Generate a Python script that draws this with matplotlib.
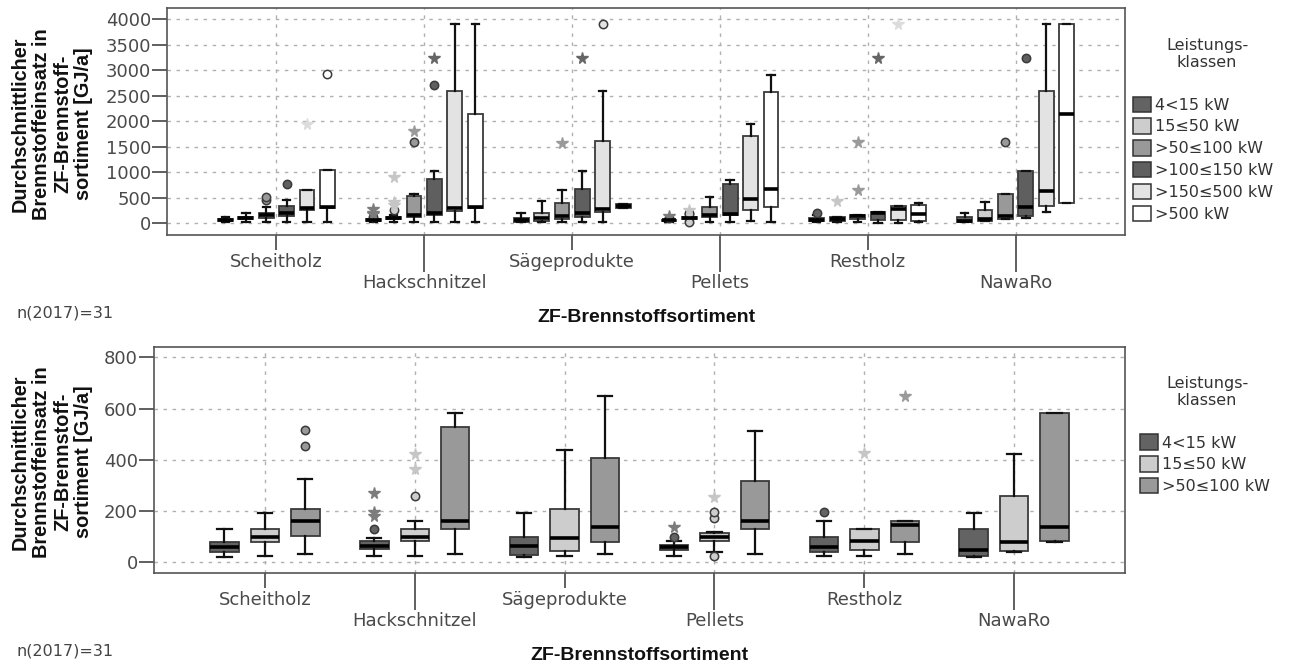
import matplotlib
matplotlib.use("Agg")
import matplotlib.pyplot as plt
from matplotlib.patches import Patch

# ZF-Brennstoffsortimente (x-Achse)
categories = ["Scheitholz", "Hackschnitzel", "Sägeprodukte", "Pellets", "Restholz", "NawaRo"]
# Leistungsklassen
classes = ["4<15 kW", "15≤50 kW", ">50≤100 kW", ">100≤150 kW", ">150≤500 kW", ">500 kW"]
fills = ["#636363", "#cdcdcd", "#999999", "#5f5f5f", "#e3e3e3", "#ffffff"]
star_cols = ["#7c7c7c", "#c6c6c6", "#9a9a9a", "#666666", "#dcdcdc", "#e0e0e0"]

# Boxplot-Kennwerte [GJ/a], je Klasse eine Zeile, je Sortiment eine Spalte
whislo = [[20, 26, 20, 26, 26, 20],
          [26, 26, 26, 39, 26, 39],
          [33, 33, 33, 33, 33, 78],
          [33, 20, 20, 20, 15, 98],
          [33, 20, 20, 39, 13, 216],
          [33, 20, 307, 20, 26, 392]]
q1 = [[39, 51, 29, 47, 39, 25],
      [79, 81, 44, 82, 46, 43],
      [103, 130, 79, 130, 78, 81],
      [150, 170, 118, 170, 70, 144],
      [255, 242, 229, 255, 65, 346],
      [300, 300, 307, 320, 52, 392]]
med = [[61, 65, 62, 58, 58, 46],
       [98, 98, 96, 100, 82, 79],
       [161, 161, 138, 161, 144, 138],
       [203, 196, 196, 190, 200, 314],
       [300, 307, 288, 477, 281, 641],
       [320, 320, 340, 673, 190, 2137]]
q3 = [[79, 83, 98, 68, 98, 130],
      [130, 130, 209, 116, 130, 260],
      [209, 527, 405, 319, 161, 583],
      [340, 869, 667, 771, 225, 1033],
      [647, 2601, 1614, 1719, 340, 2601],
      [1039, 2150, 385, 2568, 360, 3902]]
whishi = [[129, 96, 194, 83, 161, 194],
          [194, 161, 438, 120, 130, 421],
          [323, 583, 647, 511, 161, 583],
          [451, 1026, 1026, 850, 225, 1033],
          [647, 3902, 2601, 1954, 340, 3902],
          [1039, 3902, 385, 2913, 405, 3902]]

# Ausreisser (Kreise) und Extremwerte (Sterne): (Sortiment, Klasse) -> Werte
circles = {(0, 2): [453, 518], (0, 3): [778], (0, 5): [2930],
           (1, 0): [129], (1, 1): [259], (1, 2): [1588], (1, 3): [2712],
           (2, 4): [3902],
           (3, 0): [98], (3, 1): [26, 174, 198],
           (4, 0): [195],
           (5, 2): [1588], (5, 3): [3248]}
stars = {(0, 4): [1950],
         (1, 0): [182, 195, 272], (1, 1): [363, 421, 915], (1, 2): [1810], (1, 3): [3248],
         (2, 2): [1582], (2, 3): [3248],
         (3, 0): [137], (3, 1): [254],
         (4, 1): [428], (4, 2): [647, 1588], (4, 3): [3248], (4, 4): [3908]}

BOLD = dict(family="Liberation Sans", weight="bold", color="#111111")
GRID = dict(color="#b0b0b0", linestyle=(0, (2.5, 4)), linewidth=1)

fig = plt.figure(figsize=(12.9, 6.68), dpi=100)


def draw(ax, n_cls, step, width):
    for k in range(n_cls):
        stats, pos = [], []
        for i in range(len(categories)):
            stats.append(dict(whislo=whislo[k][i], q1=q1[k][i], med=med[k][i],
                              q3=q3[k][i], whishi=whishi[k][i],
                              fliers=circles.get((i, k), [])))
            pos.append(i + (k - (n_cls - 1) / 2) * step)
        ax.bxp(stats, positions=pos, widths=width, capwidths=width * 0.5,
               patch_artist=True, showfliers=True,
               boxprops=dict(facecolor=fills[k], edgecolor="#3a3a3a", linewidth=1.3),
               medianprops=dict(color="black", linewidth=2.6),
               whiskerprops=dict(color="#111111", linewidth=1.6),
               capprops=dict(color="#111111", linewidth=1.6),
               flierprops=dict(marker="o", markerfacecolor=fills[k],
                               markeredgecolor="#3a3a3a", markersize=6,
                               markeredgewidth=1.1))
        for (i, kk), vals in stars.items():
            if kk == k:
                ax.plot([pos[i]] * len(vals), vals, linestyle="none", marker="*",
                        color=star_cols[k], markersize=8.5)

    ax.set_xlim(-0.74, 5.74)
    ax.set_xticks([0, 2, 4])
    ax.set_xticklabels([categories[0], categories[2], categories[4]])
    ax.set_xticks([1, 3, 5], minor=True)
    ax.set_xticklabels([categories[1], categories[3], categories[5]], minor=True)
    ax.tick_params(axis="x", which="major", length=10.8, pad=2)
    ax.tick_params(axis="x", which="minor", length=26.6, pad=1.5)
    ax.tick_params(axis="both", which="both", width=1.2, color="#444444",
                   labelsize=13, labelcolor="#4a4a4a")
    ax.tick_params(axis="y", length=10.5, pad=1)
    ax.set_axisbelow(True)
    ax.xaxis.grid(True, which="both", **GRID)
    ax.yaxis.grid(True, which="major", **GRID)
    for sp in ax.spines.values():
        sp.set_color("#555555")
        sp.set_linewidth(1.2)


# oberes Diagramm: alle Leistungsklassen
ax1 = fig.add_axes([0.1295, 0.6482, 0.7426, 0.3398])
draw(ax1, 6, 0.138, 0.1)
ax1.set_ylim(-229, 4220)
ax1.set_yticks(range(0, 4001, 500))

# unteres Diagramm: kleine Leistungsklassen
ax2 = fig.add_axes([0.1194, 0.1422, 0.7527, 0.3383])
draw(ax2, 3, 0.27, 0.19)
ax2.set_ylim(-42, 840)
ax2.set_yticks(range(0, 801, 200))

ylab = "Durchschnittlicher\nBrennstoffeinsatz in\nZF-Brennstoff-\nsortiment [GJ/a]"
for ax, yc, ytitle, leg_y, leg_x, xl_y, n_y, n_cls in [
        (ax1, 1 - 124 / 668, 1 - 54 / 668, 0.8555, 0.8783, 1 - 318 / 668, 1 - 313 / 668, 6),
        (ax2, 1 - 462 / 668, 1 - 392 / 668, 0.3496, 0.8837, 1 - 655 / 668, 1 - 651 / 668, 3)]:
    fig.text(52 / 1290, yc, ylab, rotation=90, ha="center", va="center",
             multialignment="center", fontsize=14.3, linespacing=1.15, **BOLD)
    pos = ax.get_position()
    fig.text((pos.x0 + pos.x1) / 2, xl_y, "ZF-Brennstoffsortiment",
             ha="center", va="center", fontsize=14, **BOLD)
    fig.text(17 / 1290, n_y, "n(2017)=31", ha="left", va="center",
             fontsize=11.5, color="#444444")
    fig.text(1207 / 1290, ytitle, "Leistungs-\nklassen", ha="center", va="center",
             fontsize=11.5, color="#333333", linespacing=1.15)
    handles = [Patch(facecolor=fills[k], edgecolor="#333333", linewidth=1.1)
               for k in range(n_cls)]
    leg = ax.legend(handles, classes[:n_cls], loc="upper left",
                    bbox_to_anchor=(leg_x, leg_y), bbox_transform=fig.transFigure,
                    frameon=False, borderaxespad=0, borderpad=0, fontsize=11.5,
                    handlelength=1.1, handleheight=1.1, handletextpad=0.25,
                    labelspacing=0.36)
    for t in leg.get_texts():
        t.set_color("#333333")

fig.savefig("out.png", dpi=100)
